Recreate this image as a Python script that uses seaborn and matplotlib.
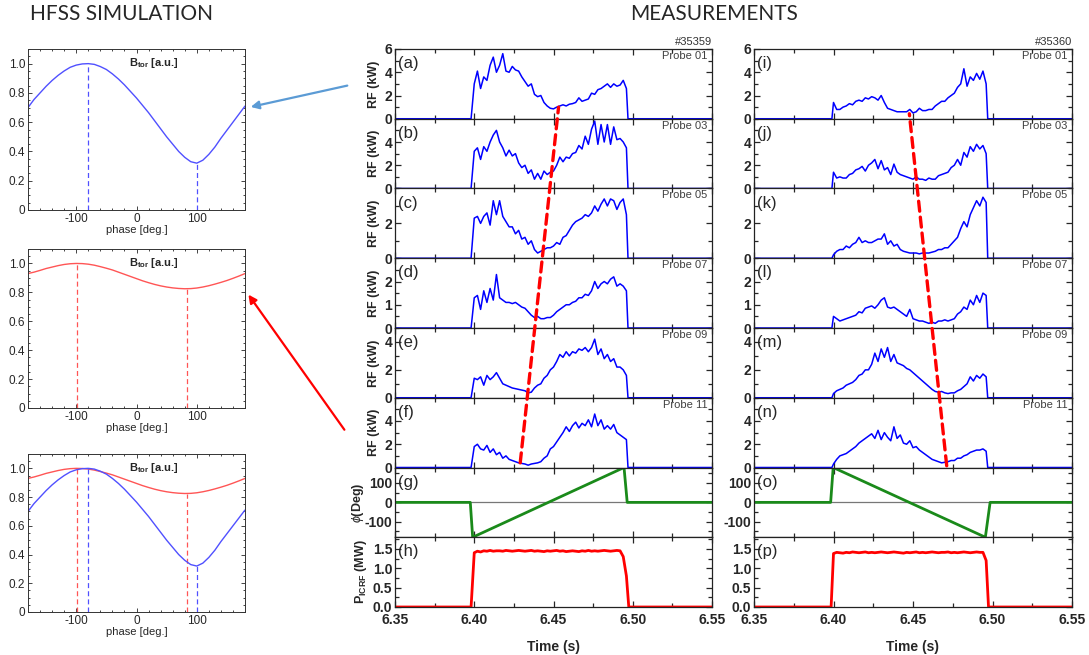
import numpy as np
import matplotlib
matplotlib.use("Agg")
import matplotlib.pyplot as plt
import seaborn as sns
from matplotlib.ticker import MultipleLocator, FixedLocator
from matplotlib.patches import ConnectionPatch

sns.set_style("ticks")
plt.rcParams["font.family"] = ["Liberation Sans", "DejaVu Sans"]
plt.rcParams["mathtext.fontset"] = "custom"
plt.rcParams["mathtext.rm"] = "Liberation Sans"
plt.rcParams["mathtext.it"] = "Liberation Sans:italic"
plt.rcParams["mathtext.bf"] = "Liberation Sans:bold"
plt.rcParams["axes.unicode_minus"] = False

# ---------------- HFSS simulation data ----------------
phase = [-180, -170, -160, -150, -140, -130, -120, -110, -100, -90, -80, -70, -60,
         -50, -40, -30, -20, -10, 0, 10, 20, 30, 40, 50, 60, 70, 80, 90, 100,
         110, 120, 130, 140, 150, 160, 170, 180]
btor_blue = [0.70, 0.755, 0.80, 0.845, 0.885, 0.92, 0.95, 0.975, 0.99, 0.998, 1.00,
             0.995, 0.98, 0.96, 0.93, 0.895, 0.855, 0.81, 0.765, 0.715, 0.665, 0.61,
             0.555, 0.50, 0.45, 0.40, 0.36, 0.33, 0.32, 0.34, 0.38, 0.43, 0.49,
             0.545, 0.60, 0.655, 0.71]
btor_red = [0.93, 0.94, 0.952, 0.965, 0.975, 0.985, 0.993, 0.998, 1.00, 0.999, 0.995,
            0.988, 0.978, 0.967, 0.955, 0.94, 0.925, 0.91, 0.895, 0.88, 0.867, 0.855,
            0.845, 0.837, 0.831, 0.827, 0.825, 0.826, 0.83, 0.837, 0.846, 0.857, 0.869,
            0.882, 0.897, 0.913, 0.93]
blue_marks = [(-80, 1.00), (100, 0.32)]
red_marks = [(-98, 1.00), (83, 0.825)]

# ---------------- measurement data ----------------
T_MIN, T_MAX = 6.35, 6.55
rf_t0, rf_dt, rf_n = 6.400, 0.002, 49
shot_a, shot_b = "#35359", "#35360"
probes = ["Probe 01", "Probe 03", "Probe 05", "Probe 07", "Probe 09", "Probe 11"]
on_a, off_a = 6.398, 6.497
on_b, off_b = 6.399, 6.497

rf_a = [
    [3.0, 4.1, 2.6, 3.6, 3.3, 4.6, 5.3, 4.0, 4.6, 5.6, 4.1, 4.0, 4.5, 4.2, 4.1, 3.6, 3.2,
     2.8, 3.0, 2.1, 1.9, 2.0, 1.4, 1.1, 0.9, 0.85, 1.0, 1.1, 1.2, 1.1, 1.25, 1.3, 1.4,
     1.8, 1.5, 1.6, 1.7, 2.2, 2.1, 2.5, 2.6, 2.8, 3.0, 2.7, 3.0, 2.8, 2.9, 3.3, 2.6],
    [3.2, 3.5, 2.5, 3.6, 3.2, 4.0, 4.6, 5.0, 4.0, 3.5, 2.8, 3.3, 2.8, 3.0, 2.2, 1.8, 2.0,
     1.3, 1.6, 0.8, 1.3, 0.8, 1.5, 1.2, 1.4, 1.5, 2.0, 2.7, 2.3, 2.7, 2.6, 3.0, 3.1,
     3.7, 3.4, 4.5, 3.8, 5.1, 5.8, 3.8, 5.5, 4.0, 5.5, 3.8, 5.3, 4.2, 4.3, 4.0, 3.5],
    [2.3, 2.4, 2.0, 2.4, 2.6, 1.9, 3.3, 2.5, 3.3, 2.4, 2.1, 1.8, 1.8, 1.4, 1.6, 1.1, 1.2,
     0.8, 1.0, 0.5, 0.3, 0.4, 0.5, 0.6, 0.6, 0.7, 0.9, 0.8, 1.2, 1.3, 1.6, 1.9, 2.1,
     2.2, 2.3, 2.5, 2.4, 2.6, 3.0, 2.7, 3.1, 3.4, 3.0, 3.4, 3.3, 2.8, 3.2, 3.4, 2.5],
    [1.3, 1.4, 0.8, 1.6, 1.1, 1.7, 1.2, 2.3, 1.3, 1.2, 1.1, 1.1, 1.05, 1.1, 1.0, 0.9, 0.85,
     0.7, 0.55, 0.45, 0.5, 0.4, 0.4, 0.45, 0.45, 0.55, 0.7, 0.8, 0.9, 1.0, 1.0, 1.1, 1.15,
     1.3, 1.3, 1.45, 1.4, 1.6, 2.0, 1.7, 1.9, 2.0, 1.9, 2.1, 2.2, 1.8, 1.9, 1.8, 1.6],
    [1.4, 1.3, 1.5, 0.9, 1.6, 1.3, 1.5, 1.8, 1.4, 1.0, 0.9, 0.8, 0.7, 0.65, 0.6, 0.55, 0.5,
     0.35, 0.4, 0.7, 0.9, 1.0, 1.4, 1.6, 2.0, 2.2, 2.6, 3.1, 2.9, 3.3, 3.0, 3.3, 3.2,
     3.5, 3.4, 3.6, 3.3, 3.6, 4.2, 3.1, 3.5, 2.8, 3.1, 2.6, 2.8, 2.2, 2.2, 2.0, 1.6],
    [1.8, 2.0, 1.6, 1.5, 1.9, 1.3, 1.6, 1.1, 1.3, 0.8, 1.0, 0.7, 0.6, 0.5, 0.4, 0.35, 0.3,
     0.2, 0.3, 0.35, 0.4, 0.5, 0.8, 1.0, 1.6, 1.8, 2.2, 2.6, 3.0, 3.5, 3.1, 3.6, 3.9,
     3.4, 3.8, 3.6, 4.1, 3.5, 4.6, 3.6, 4.1, 3.3, 3.6, 3.3, 3.7, 3.0, 2.8, 2.6, 2.4],
]
rf_b = [
    [1.4, 0.8, 0.8, 1.0, 1.1, 1.3, 1.2, 1.5, 1.6, 1.5, 1.8, 1.7, 1.9, 1.8, 1.6, 2.0, 1.4,
     0.9, 0.8, 0.7, 0.6, 0.6, 0.6, 0.6, 0.8, 0.5, 0.6, 0.9, 0.7, 0.7, 0.8, 0.8, 1.1,
     1.3, 1.5, 1.5, 1.8, 2.0, 2.2, 2.7, 3.0, 4.3, 2.8, 3.6, 3.3, 3.9, 3.4, 4.1, 3.0],
    [1.4, 0.9, 1.0, 0.9, 0.9, 1.2, 1.3, 1.6, 1.7, 1.9, 1.5, 2.0, 2.2, 2.5, 1.7, 2.4, 1.6,
     1.8, 1.2, 2.1, 1.4, 1.2, 1.1, 1.0, 0.9, 0.8, 1.0, 0.8, 0.8, 0.7, 0.9, 0.8, 0.8,
     1.1, 1.2, 1.3, 1.4, 1.8, 2.0, 2.5, 2.0, 3.1, 2.7, 3.6, 3.2, 3.8, 3.4, 3.7, 3.0],
    [0.2, 0.4, 0.5, 0.5, 0.7, 0.6, 0.8, 0.9, 1.2, 0.9, 1.0, 0.9, 0.9, 1.0, 1.1, 1.1, 1.4,
     0.8, 1.0, 0.7, 0.8, 0.5, 0.4, 0.35, 0.3, 0.3, 0.3, 0.25, 0.3, 0.3, 0.3, 0.35, 0.4,
     0.5, 0.5, 0.6, 0.6, 0.8, 1.0, 1.2, 1.7, 2.1, 1.8, 2.5, 2.9, 3.3, 3.0, 3.5, 3.2],
    [0.5, 0.4, 0.3, 0.35, 0.4, 0.45, 0.5, 0.55, 0.7, 0.65, 0.85, 0.9, 0.95, 0.85, 1.0, 1.2, 1.3,
     0.9, 0.85, 0.9, 0.8, 0.7, 0.6, 0.5, 0.8, 0.4, 0.35, 0.3, 0.3, 0.25, 0.2, 0.25, 0.2,
     0.3, 0.3, 0.35, 0.3, 0.35, 0.4, 0.6, 0.7, 0.9, 0.8, 1.2, 1.0, 1.4, 1.1, 1.5, 1.4],
    [0.3, 0.5, 0.6, 0.7, 0.9, 1.0, 1.1, 1.3, 1.6, 1.7, 2.0, 2.0, 2.4, 3.2, 2.6, 3.5, 2.9,
     3.6, 2.6, 3.1, 2.5, 2.4, 2.3, 2.1, 2.0, 1.8, 1.6, 1.4, 1.2, 1.0, 0.8, 0.6, 0.45,
     0.4, 0.45, 0.35, 0.3, 0.35, 0.35, 0.5, 0.6, 0.8, 1.0, 1.5, 1.2, 1.6, 1.4, 1.7, 1.5],
    [0.3, 0.7, 1.0, 1.1, 1.2, 1.4, 1.6, 1.8, 2.1, 2.3, 2.5, 2.7, 2.9, 2.5, 3.2, 2.4, 3.0,
     2.6, 2.3, 3.5, 2.5, 2.8, 2.1, 2.0, 2.3, 1.7, 1.8, 1.5, 1.3, 1.1, 0.9, 0.7, 0.6,
     0.5, 0.4, 0.45, 0.5, 0.6, 0.6, 0.8, 0.8, 1.0, 1.1, 1.3, 1.4, 1.5, 1.5, 1.6, 1.4],
]
rf_ymax = [6, 6, 4, 3, 5, 6]
rf_yticks = [[0, 2, 4, 6], [0, 2, 4], [0, 2], [0, 1, 2], [0, 2, 4], [0, 2, 4]]

# antenna phase (deg)
phi_t_a = [6.35, 6.3975, 6.399, 6.4945, 6.4965, 6.55]
phi_v_a = [0, 0, -180, 180, 0, 0]
phi_t_b = [6.35, 6.3982, 6.3998, 6.4955, 6.4985, 6.55]
phi_v_b = [0, 0, 180, -180, 0, 0]

# ICRF power (MW)
pw_on_a, pw_off_a = 6.398, 6.4975
pw_on_b, pw_off_b = 6.3985, 6.4975
p_a = [1.40, 1.44, 1.42, 1.45, 1.44, 1.46, 1.44, 1.45, 1.45, 1.44, 1.46, 1.45, 1.44, 1.45,
       1.46, 1.45, 1.44, 1.45, 1.46, 1.44, 1.45, 1.44, 1.43, 1.45, 1.44, 1.45, 1.46, 1.44,
       1.45, 1.43, 1.44, 1.45, 1.44, 1.43, 1.45, 1.44, 1.46, 1.44, 1.45, 1.44, 1.45, 1.46,
       1.45, 1.44, 1.45, 1.46, 1.45, 1.30, 0.80]
p_b = [1.38, 1.41, 1.40, 1.39, 1.41, 1.40, 1.42, 1.41, 1.40, 1.41, 1.42, 1.40, 1.41, 1.40,
       1.41, 1.42, 1.41, 1.40, 1.41, 1.42, 1.41, 1.40, 1.39, 1.41, 1.40, 1.41, 1.42, 1.40,
       1.41, 1.40, 1.41, 1.42, 1.41, 1.40, 1.41, 1.41, 1.42, 1.40, 1.41, 1.40, 1.41, 1.42,
       1.41, 1.40, 1.41, 1.42, 1.41, 1.41, 1.20]

# dashed red guide lines: (time, value) in bottom probe panel -> top probe panel
guide_a = ((6.429, 0.4), (6.4532, 1.0))
guide_b = ((6.4712, 0.15), (6.4477, 0.43))

BLUE = "#0000ff"
GREEN = "#1a8a1a"
RED = "#ff0000"
SIM_BLUE = "#5050ff"
SIM_RED = "#ff5555"

W, H = 1089, 655
fig = plt.figure(figsize=(W / 100, H / 100), dpi=100)


def box(l, t, r, b):
    return [l / W, 1 - b / H, (r - l) / W, (b - t) / H]


rf_t = rf_t0 + rf_dt * np.arange(rf_n)


def pulse(t_on, t_off, vals):
    x = np.concatenate([[T_MIN, t_on], rf_t, [t_off, T_MAX]])
    y = np.concatenate([[0, 0], vals, [0, 0]])
    return x, y


# ---------------- left: HFSS panels ----------------
sim_boxes = [(28, 49, 245, 210), (28, 249, 245, 408), (28, 454, 245, 612)]
sim_sets = [[(btor_blue, SIM_BLUE, blue_marks)],
            [(btor_red, SIM_RED, red_marks)],
            [(btor_red, SIM_RED, red_marks), (btor_blue, SIM_BLUE, blue_marks)]]
sim_axes = []
for bx, sets in zip(sim_boxes, sim_sets):
    ax = fig.add_axes(box(*bx))
    for vals, col, marks in sets:
        sns.lineplot(x=phase, y=vals, ax=ax, color=col, lw=1.0, sort=False, estimator=None)
        ax.vlines([m[0] for m in marks], 0, [m[1] for m in marks], color=col,
                  lw=0.9, linestyles=(0, (4, 2.5)))
    ax.set_xlim(-180, 180)
    ax.set_ylim(0, 1.1)
    ax.set_xticks([-100, 0, 100])
    ax.set_yticks([0, 0.2, 0.4, 0.6, 0.8, 1.0])
    ax.set_yticklabels(["0", "0.2", "0.4", "0.6", "0.8", "1.0"])
    ax.xaxis.set_minor_locator(MultipleLocator(20))
    ax.yaxis.set_minor_locator(MultipleLocator(0.05))
    ax.tick_params(which="both", direction="in", top=True, right=True, width=0.6,
                   labelsize=8.5, pad=2)
    ax.tick_params(which="major", length=3)
    ax.tick_params(which="minor", length=1.6)
    for s in ax.spines.values():
        s.set_linewidth(0.7)
        s.set_color("#333333")
    ax.set_xlabel("phase [deg.]", fontsize=8, labelpad=0)
    ax.text(0.58, 0.91, r"$\mathbf{B_{tor}}$ [a.u.]", transform=ax.transAxes,
            ha="center", va="center", fontsize=8, fontweight="bold")
    sim_axes.append(ax)

# ---------------- right: measurement panels ----------------
PH = 69.75
cols = [
    dict(left=395, right=712, rf=rf_a, on=on_a, off=off_a, phi=(phi_t_a, phi_v_a),
         pw=p_a, pon=pw_on_a, poff=pw_off_a, letters="abcdefgh", shot=shot_a, ylab=True),
    dict(left=754, right=1072, rf=rf_b, on=on_b, off=off_b, phi=(phi_t_b, phi_v_b),
         pw=p_b, pon=pw_on_b, poff=pw_off_b, letters="ijklmnop", shot=shot_b, ylab=False),
]
col_axes = []
for c in cols:
    axes = []
    for k in range(8):
        top = 49 + PH * k
        ax = fig.add_axes(box(c["left"], top, c["right"], top + PH))
        axes.append(ax)
        if k < 6:
            x, y = pulse(c["on"], c["off"], c["rf"][k])
            sns.lineplot(x=x, y=y, ax=ax, color=BLUE, lw=1.1, sort=False, estimator=None)
            ax.set_ylim(0, rf_ymax[k])
            ax.yaxis.set_major_locator(FixedLocator(rf_yticks[k]))
            ax.yaxis.set_minor_locator(MultipleLocator(0.5 if k == 3 else 1))
            ax.text(0.985, 0.9, probes[k], transform=ax.transAxes, ha="right",
                    va="center", fontsize=8, color="#404040")
            if c["ylab"]:
                ax.set_ylabel("RF (kW)", fontsize=9, fontweight="bold", labelpad=3)
        elif k == 6:
            ax.axhline(0, color="#777777", lw=0.9, zorder=1)
            sns.lineplot(x=c["phi"][0], y=c["phi"][1], ax=ax, color=GREEN, lw=2.0,
                         sort=False, estimator=None)
            ax.set_ylim(-180, 180)
            ax.yaxis.set_major_locator(FixedLocator([-100, 0, 100]))
            ax.yaxis.set_minor_locator(MultipleLocator(50))
            if c["ylab"]:
                ax.set_ylabel(r"$\phi$(Deg)", fontsize=9, fontweight="bold", labelpad=-1)
        else:
            x, y = pulse(c["pon"], c["poff"], c["pw"])
            sns.lineplot(x=x, y=y, ax=ax, color=RED, lw=2.0, sort=False, estimator=None)
            ax.set_ylim(0, 1.8)
            ax.yaxis.set_major_locator(FixedLocator([0, 0.5, 1.0, 1.5]))
            ax.yaxis.set_major_formatter(plt.FormatStrFormatter("%.1f"))
            ax.yaxis.set_minor_locator(MultipleLocator(0.25))
            if c["ylab"]:
                ax.set_ylabel(r"$\mathbf{P_{ICRF}}$ (MW)", fontsize=9, fontweight="bold",
                              labelpad=3)
        ax.set_xlim(T_MIN, T_MAX)
        ax.xaxis.set_major_locator(MultipleLocator(0.05))
        ax.xaxis.set_minor_locator(MultipleLocator(0.025))
        ax.tick_params(which="both", direction="in", top=True, right=True, width=0.9,
                       labelsize=10, pad=2)
        ax.tick_params(which="major", length=4)
        ax.tick_params(which="minor", length=3)
        for lab in ax.get_yticklabels():
            lab.set_fontweight("bold")
        if k < 7:
            ax.tick_params(labelbottom=False)
        else:
            ax.tick_params(axis="x", pad=4)
            ax.xaxis.set_major_formatter(plt.FormatStrFormatter("%.2f"))
            for lab in ax.get_xticklabels():
                lab.set_fontweight("bold")
            ax.set_xlabel("Time (s)", fontsize=10, fontweight="bold", labelpad=10)
        for s in ax.spines.values():
            s.set_linewidth(0.9)
            s.set_color("#222222")
        ax.text(0.008, 0.79, "(" + c["letters"][k] + ")", transform=ax.transAxes,
                ha="left", va="center", fontsize=12)
    axes[0].text(1.0, 1.03, c["shot"], transform=axes[0].transAxes, ha="right",
                 va="bottom", fontsize=8, color="#333333")
    col_axes.append(axes)

# dashed guide lines across probe panels
for axes, (pa, pb) in zip(col_axes, [guide_a, guide_b]):
    con = ConnectionPatch(xyA=pa, coordsA=axes[5].transData, xyB=pb,
                          coordsB=axes[0].transData, color=RED, lw=2.4,
                          linestyle=(0, (3, 1.8)))
    fig.add_artist(con)

# arrows from measurement to simulation panels
sim_axes[0].annotate("", xy=(185, 0.70), xycoords="data",
                     xytext=(350 / W, 1 - 85 / H), textcoords="figure fraction",
                     arrowprops=dict(arrowstyle="-|>", color="#5b9bd5", lw=1.6,
                                     mutation_scale=12), annotation_clip=False)
sim_axes[1].annotate("", xy=(183, 0.80), xycoords="data",
                     xytext=(346 / W, 1 - 432 / H), textcoords="figure fraction",
                     arrowprops=dict(arrowstyle="-|>", color=RED, lw=1.6,
                                     mutation_scale=12), annotation_clip=False)

fig.text(122 / W, 1 - 14 / H, "HFSS SIMULATION", ha="center", va="center",
         fontsize=15, family=["Lato", "DejaVu Sans"])
fig.text(714 / W, 1 - 14 / H, "MEASUREMENTS", ha="center", va="center",
         fontsize=15, family=["Lato", "DejaVu Sans"])

fig.savefig("out.png", dpi=100)
